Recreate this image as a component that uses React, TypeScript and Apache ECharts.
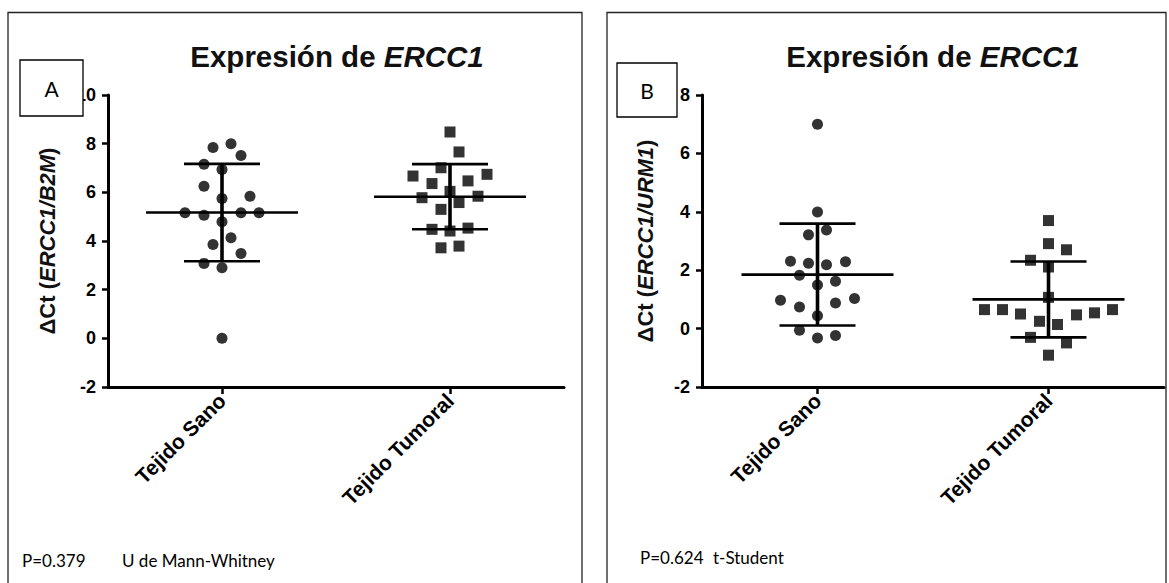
import React, { useEffect, useRef } from "react";
import * as echarts from "echarts";

// ---------- data ----------
const categories = ["Tejido Sano", "Tejido Tumoral"];

// Panel A: ΔCt (ERCC1/B2M)
const sanoA = [7.84, 8.0, 7.51, 7.15, 6.94, 6.25, 5.75, 5.84, 5.16, 5.06, 5.16, 5.16, 4.79, 4.13, 3.86, 3.49, 3.08, 2.9, 0.0];
const tumoralA = [8.48, 7.66, 7.01, 6.67, 6.74, 6.36, 6.47, 6.04, 5.78, 5.84, 5.58, 5.3, 4.48, 4.41, 4.53, 3.72, 3.79];
const meanA = [5.17, 5.82];
const sdA = [2.0, 1.34];

// Panel B: ΔCt (ERCC1/URM1)
const sanoB = [7.0, 3.99, 3.21, 3.38, 2.31, 2.24, 2.19, 2.29, 1.83, 1.49, 1.62, 0.97, 0.74, 0.88, 1.03, 0.44, -0.06, -0.32, -0.24];
const tumoralB = [3.7, 2.91, 2.7, 2.34, 2.11, 1.07, 0.65, 0.65, 0.5, 0.25, 0.14, 0.47, 0.54, 0.65, -0.3, -0.49, -0.91];
const meanB = [1.85, 1.0];
const sdB = [1.745, 1.3];

const yRangeA = { min: -2, max: 10, interval: 2 };
const yRangeB = { min: -2, max: 8, interval: 2 };

const titleMain = "Expresión de ";
const titleGene = "ERCC1";
const yNameA = ["ΔCt (", "ERCC1/B2M", ")"];
const yNameB = ["ΔCt (", "ERCC1/URM1", ")"];
const statsA = ["P=0.379", "U de Mann-Whitney"];
const statsB = ["P=0.624", "t-Student"];

// ---------- layout (horizontal scatter spread, px) ----------
const sanoAJitter = [-9, 9, 19, -18, 0, -18, 0, 28, -37, -18, 19, 37, 0, 9, -9, 19, -18, 0, 0];
const tumoralAJitter = [0, 9, -9, -37, 37, -18, 18, 0, -28, 28, 9, -9, -18, 0, 18, -9, 9];
const sanoBJitter = [0, 0, -9, 9, -27, -9, 9, 28, -18, 0, 18, -37, -18, 18, 37, 0, -18, 0, 18];
const tumoralBJitter = [0, 0, 18, -18, 0, 0, -64, -46, -28, -9, 9, 28, 46, 64, -18, 18, 0];

const FONT = "Liberation Sans";
const NOTE_FONT = "Lato";

function points(vals: number[], jitter: number[], cat: number) {
  return vals.map((v, i) => ({ value: [cat, v], symbolOffset: [jitter[i], 0] }));
}

function meanSdRender(params: any, api: any) {
  const x = api.value(0);
  const m = api.value(1);
  const s = api.value(2);
  const c = api.coord([x, m]);
  const top = api.coord([x, m + s]);
  const bot = api.coord([x, m - s]);
  const st = { stroke: "#000", lineWidth: 2.6 };
  return {
    type: "group",
    children: [
      { type: "line", shape: { x1: c[0] - 76, y1: c[1], x2: c[0] + 76, y2: c[1] }, style: st },
      { type: "line", shape: { x1: c[0], y1: top[1], x2: c[0], y2: bot[1] }, style: { ...st, lineWidth: 3.6 } },
      { type: "line", shape: { x1: c[0] - 38, y1: top[1], x2: c[0] + 38, y2: top[1] }, style: st },
      { type: "line", shape: { x1: c[0] - 38, y1: bot[1], x2: c[0] + 38, y2: bot[1] }, style: st },
    ],
  };
}

function xAxisCfg(gridIndex: number) {
  return {
    gridIndex,
    type: "category",
    data: categories,
    boundaryGap: true,
    axisLine: { show: true, onZero: false, lineStyle: { color: "#000", width: 3 } },
    axisTick: { show: true, alignWithLabel: true, length: 7, lineStyle: { color: "#000", width: 2.5 } },
    axisLabel: {
      rotate: 45,
      interval: 0,
      margin: 10,
      color: "#000",
      fontSize: 21,
      fontWeight: "bold",
      fontFamily: FONT,
    },
    splitLine: { show: false },
  };
}

function yAxisCfg(gridIndex: number, range: any, nameParts: string[], nameGap: number) {
  return {
    gridIndex,
    type: "value",
    min: range.min,
    max: range.max,
    interval: range.interval,
    axisLine: { show: true, onZero: false, lineStyle: { color: "#000", width: 3 } },
    axisTick: { show: true, length: 6, lineStyle: { color: "#000", width: 2.5 } },
    splitLine: { show: false },
    axisLabel: {
      show: true,
      color: "#000",
      fontSize: 18,
      fontWeight: "bold",
      fontFamily: FONT,
      margin: 12,
    },
    name: `{n|${nameParts[0]}}{i|${nameParts[1]}}{n|${nameParts[2]}}`,
    nameLocation: "middle",
    nameRotate: 90,
    nameGap,
    nameTextStyle: {
      rich: {
        n: { fontSize: 22, fontWeight: "bold", fontFamily: FONT, color: "#111" },
        i: { fontSize: 22, fontWeight: "bold", fontStyle: "italic", fontFamily: FONT, color: "#111" },
      },
    },
  };
}

function titleGraphic(cx: number) {
  return {
    type: "text",
    x: cx,
    y: 56,
    z: 100,
    style: {
      text: `{a|${titleMain}}{b|${titleGene}}`,
      align: "center",
      verticalAlign: "middle",
      rich: {
        a: { fontSize: 29.5, fontWeight: "bold", fontFamily: FONT, fill: "#111", color: "#111" },
        b: { fontSize: 29.5, fontWeight: "bold", fontStyle: "italic", fontFamily: FONT, fill: "#111", color: "#111" },
      },
    },
  };
}

function letterBox(x: number, y: number, w: number, h: number, letter: string) {
  return [
    { type: "rect", z: 100, shape: { x, y, width: w, height: h }, style: { fill: "#fff", stroke: "#000", lineWidth: 1.3 } },
    {
      type: "text",
      z: 101,
      x: x + w / 2,
      y: y + h / 2,
      style: { text: letter, align: "center", verticalAlign: "middle", fontSize: 21, fontFamily: NOTE_FONT, fill: "#000" },
    },
  ];
}

function noteText(x: number, y: number, t: string) {
  return {
    type: "text",
    z: 100,
    x,
    y,
    style: { text: t, align: "left", verticalAlign: "middle", fontSize: 17, fontFamily: NOTE_FONT, fill: "#000" },
  };
}

export default function App() {
  const ref = useRef<HTMLDivElement>(null);

  useEffect(() => {
    if (!ref.current) return;
    const chart = echarts.init(ref.current, null, { renderer: "svg" });
    const option: any = {
      animation: false,
      backgroundColor: "#fff",
      grid: [
        { left: 108, top: 95, width: 456, height: 292, outerBoundsMode: "none" },
        { left: 702, top: 95, width: 462, height: 292, outerBoundsMode: "none" },
      ],
      xAxis: [xAxisCfg(0), xAxisCfg(1)],
      yAxis: [yAxisCfg(0, yRangeA, yNameA, 50), yAxisCfg(1, yRangeB, yNameB, 46)],
      series: [
        {
          type: "scatter",
          xAxisIndex: 0,
          yAxisIndex: 0,
          symbol: "circle",
          symbolSize: 11,
          itemStyle: { color: "#000" },
          data: points(sanoA, sanoAJitter, 0),
        },
        {
          type: "scatter",
          xAxisIndex: 0,
          yAxisIndex: 0,
          symbol: "rect",
          symbolSize: 11,
          itemStyle: { color: "#000" },
          data: points(tumoralA, tumoralAJitter, 1),
        },
        {
          type: "custom",
          xAxisIndex: 0,
          yAxisIndex: 0,
          renderItem: meanSdRender,
          encode: { x: 0, y: 1 },
          data: meanA.map((m, i) => [i, m, sdA[i]]),
          z: 3,
        },
        {
          type: "scatter",
          xAxisIndex: 1,
          yAxisIndex: 1,
          symbol: "circle",
          symbolSize: 11,
          itemStyle: { color: "#000" },
          data: points(sanoB, sanoBJitter, 0),
        },
        {
          type: "scatter",
          xAxisIndex: 1,
          yAxisIndex: 1,
          symbol: "rect",
          symbolSize: 11,
          itemStyle: { color: "#000" },
          data: points(tumoralB, tumoralBJitter, 1),
        },
        {
          type: "custom",
          xAxisIndex: 1,
          yAxisIndex: 1,
          renderItem: meanSdRender,
          encode: { x: 0, y: 1 },
          data: meanB.map((m, i) => [i, m, sdB[i]]),
          z: 3,
        },
      ],
      graphic: [
        { type: "rect", z: 0, shape: { x: 8, y: 12.5, width: 574, height: 590 }, style: { fill: "none", stroke: "#222", lineWidth: 1.3 } },
        { type: "rect", z: 0, shape: { x: 607, y: 12.5, width: 559, height: 590 }, style: { fill: "none", stroke: "#222", lineWidth: 1.3 } },
        titleGraphic(337),
        titleGraphic(933),
        ...letterBox(20, 60, 63, 56, "A"),
        ...letterBox(617, 63, 60, 54, "B"),
        noteText(22, 560, statsA[0]),
        noteText(122, 560, statsA[1]),
        noteText(640, 557, statsB[0]),
        noteText(713, 557, statsB[1]),
      ],
    };
    chart.setOption(option);
    return () => chart.dispose();
  }, []);

  return (
    <div
      ref={ref}
      style={{ position: "absolute", left: 0, top: 0, width: 1169, height: 583, background: "#fff" }}
    />
  );
}
